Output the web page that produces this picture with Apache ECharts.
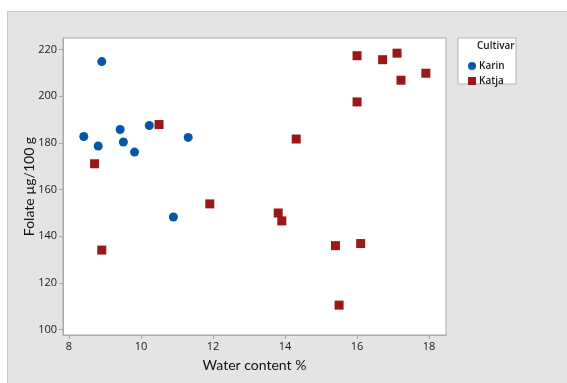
<!DOCTYPE html>
<html lang="en">
<head>
  <meta charset="UTF-8">
  <title>Folate vs Water content</title>
  <script src="https://cdn.jsdelivr.net/npm/echarts@6/dist/echarts.min.js"></script>
  <style>
    body { margin: 0; background: #fff; }
    #chart { width: 567px; height: 383px; }
  </style>
</head>
<body>
<div id="chart"></div>
<script>
  // data: [water content %, folate ug/100 g]
  var karin = [
    [8.41, 182.8], [8.91, 214.9], [8.81, 178.7], [9.42, 185.8], [9.51, 180.4],
    [9.82, 176.1], [10.23, 187.5], [11.31, 182.4], [10.90, 148.3]
  ];
  var katja = [
    [8.71, 171.1], [8.91, 134.1], [10.50, 187.9], [11.91, 153.9], [13.81, 150.0],
    [13.91, 146.6], [14.31, 181.7], [15.40, 136.0], [15.50, 110.5], [16.10, 136.9],
    [16.00, 217.4], [16.00, 197.6], [16.71, 215.7], [17.11, 218.5], [17.22, 206.9],
    [17.91, 209.9]
  ];
  var xTicks = [8, 10, 12, 14, 16, 18];
  var yTicks = [100, 120, 140, 160, 180, 200, 220];

  var fontFam = 'Open Sans, sans-serif';
  var titleFam = 'Lato, sans-serif';
  var chart = echarts.init(document.getElementById('chart'));

  var option = {
    animation: false,
    textStyle: { fontFamily: fontFam },
    graphic: [
      {
        type: 'rect', z: -10, silent: true,
        shape: { x: 7.5, y: 11.5, width: 570, height: 380 },
        style: { fill: '#e4e4e4', stroke: '#c6c6c6', lineWidth: 1 }
      },
      {
        type: 'rect', z: -5, silent: true,
        shape: { x: 458, y: 38, width: 58, height: 46 },
        style: { fill: '#fff', stroke: '#b4b4b4', lineWidth: 1 }
      },
      {
        type: 'text', left: 477, top: 41,
        style: { text: 'Cultivar', fill: '#1a1a1a', font: '600 10px ' + fontFam }
      }
    ],
    grid: {
      left: 63, top: 38, right: 121, bottom: 48,
      show: true, backgroundColor: '#fff', borderColor: '#a8a8a8', borderWidth: 1,
      outerBoundsMode: 'none'
    },
    legend: {
      orient: 'vertical', left: 463, top: 56,
      itemWidth: 8, itemHeight: 8, itemGap: 5,
      textStyle: { fontSize: 10, fontWeight: 600, color: '#1a1a1a', padding: [0, 0, 0, -2] },
      data: [
        { name: 'Karin', icon: 'circle' },
        { name: 'Katja', icon: 'rect' }
      ]
    },
    xAxis: {
      type: 'value', min: 7.833, max: 18.47,
      name: 'Water content %', nameLocation: 'middle', nameGap: 23, nameMoveOverlap: false,
      nameTextStyle: { fontSize: 14, color: '#111', fontFamily: titleFam },
      axisLine: { show: true, lineStyle: { color: '#a8a8a8' } },
      axisTick: { show: true, length: 4, lineStyle: { color: '#a8a8a8' }, customValues: xTicks },
      axisLabel: { fontSize: 11, color: '#1a1a1a', margin: 6, customValues: xTicks },
      splitLine: { show: false }
    },
    yAxis: {
      type: 'value', min: 97.7, max: 225,
      name: 'Folate µg/100 g', nameLocation: 'middle', nameGap: 27, nameMoveOverlap: false,
      nameTextStyle: { fontSize: 14, color: '#111', fontFamily: titleFam },
      axisLine: { show: true, lineStyle: { color: '#a8a8a8' } },
      axisTick: { show: true, length: 4, lineStyle: { color: '#a8a8a8' }, customValues: yTicks },
      axisLabel: { fontSize: 11, color: '#1a1a1a', margin: 6, customValues: yTicks },
      splitLine: { show: false }
    },
    series: [
      {
        name: 'Karin', type: 'scatter', symbol: 'circle', symbolSize: 9,
        itemStyle: { color: '#0656a8', opacity: 1 },
        data: karin
      },
      {
        name: 'Katja', type: 'scatter', symbol: 'rect', symbolSize: 9,
        itemStyle: { color: '#9c1717', opacity: 1 },
        data: katja
      }
    ]
  };

  chart.setOption(option);
</script>
</body>
</html>
